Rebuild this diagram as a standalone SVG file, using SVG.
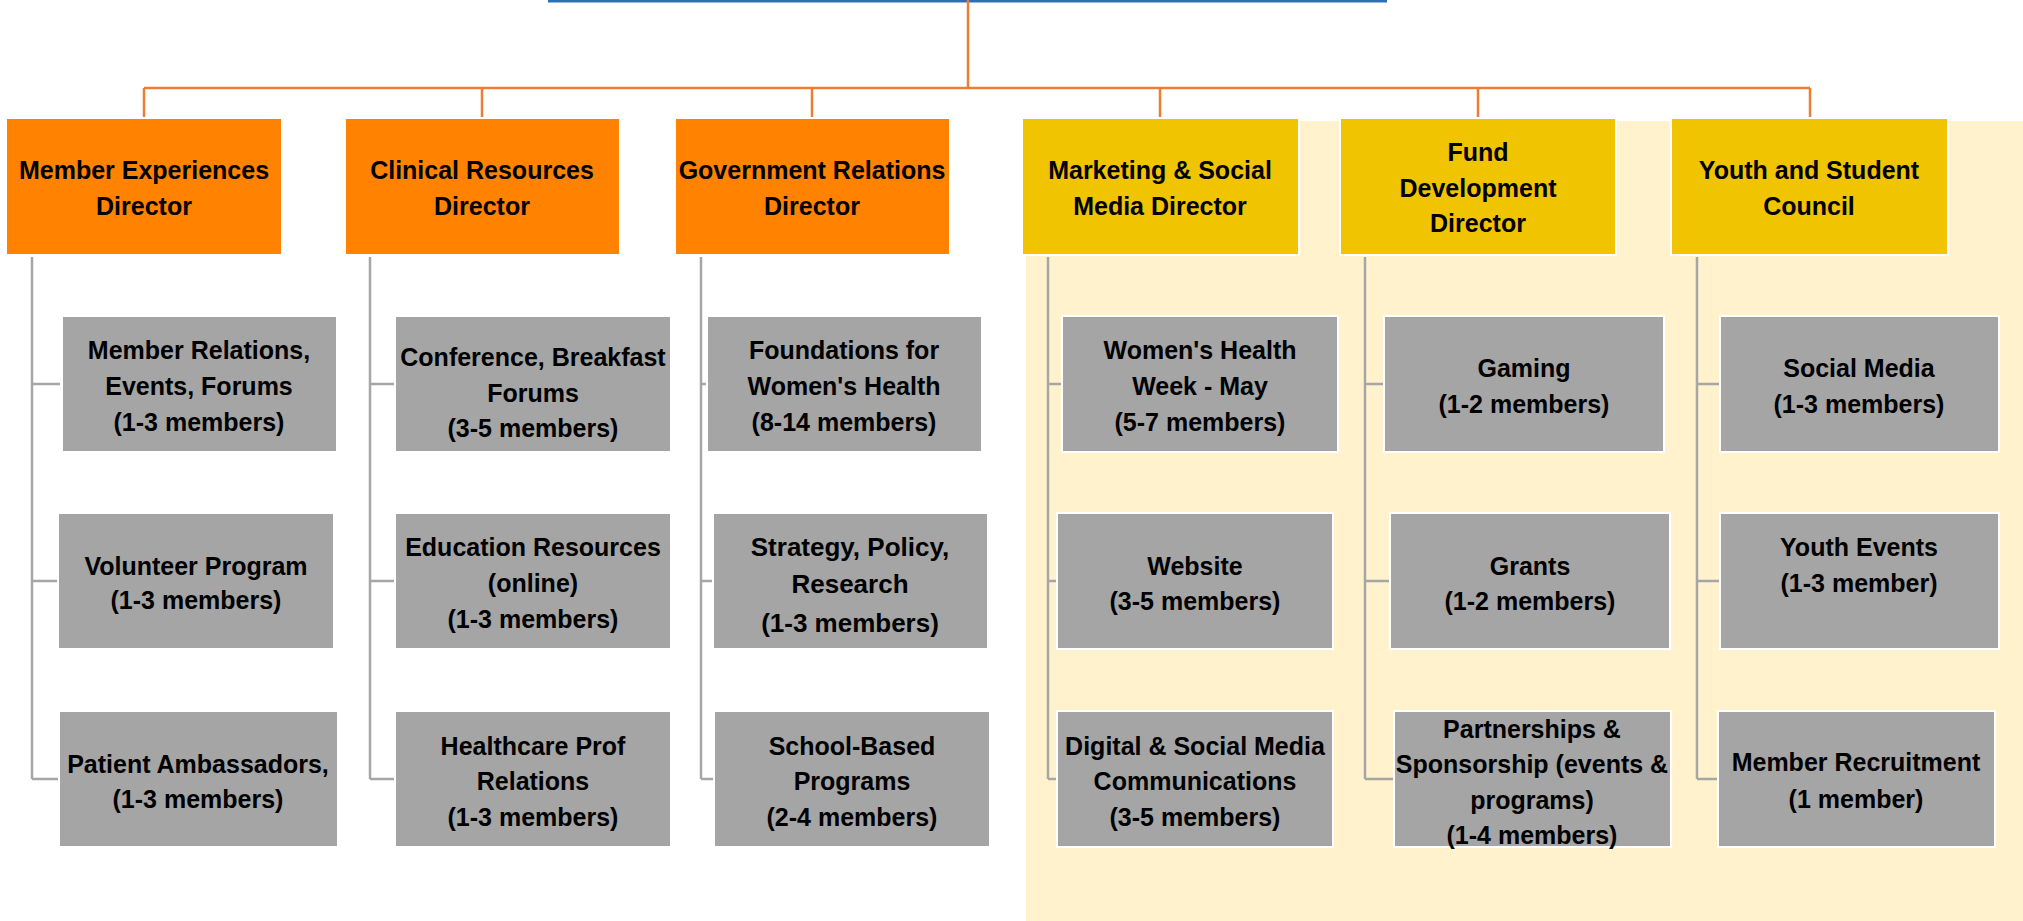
<svg xmlns="http://www.w3.org/2000/svg" width="2023" height="921" viewBox="0 0 2023 921">
<style>
.dir-o{fill:#FF8200;stroke:#FFFFFF;stroke-width:2}
.dir-y{fill:#F0C400;stroke:#FFFFFF;stroke-width:2}
.box{fill:#A5A5A5;stroke:#FFFFFF;stroke-width:2}
text{font-family:"Liberation Sans",Arial,sans-serif;font-weight:bold;font-size:25px;fill:#000000;text-anchor:middle}
.big{font-size:26px}
.oc{stroke:#ED7D31;stroke-width:2.5;fill:none}
.gc{stroke:#A6A6A6;stroke-width:2.5;fill:none}
</style>
<rect x="0" y="0" width="2023" height="921" fill="#FFFFFF"/>
<rect id="panel" x="1026" y="121" width="997" height="800" fill="#FFF2CC"/>
<rect id="top-edge" x="548" y="0" width="839" height="2.5" fill="#2F6EB5"/>
<g id="connectors">
<path class="oc" d="M968,0 V88 M144,88 H1810 M144,88 V117 M482,88 V117 M812,88 V117 M1160,88 V117 M1478,88 V117 M1810,88 V117"/>
<path class="gc" d="M32,257 V779 M32,384 H60 M32,581 H57 M32,779 H58"/>
<path class="gc" d="M370,257 V779 M370,384 H394 M370,581 H394 M370,779 H394"/>
<path class="gc" d="M701,257 V779 M701,384 H706 M701,581 H712 M701,779 H713"/>
<path class="gc" d="M1048,257 V779 M1048,384 H1061 M1048,581 H1056 M1048,779 H1056"/>
<path class="gc" d="M1365,257 V779 M1365,384 H1383 M1365,581 H1389 M1365,779 H1393"/>
<path class="gc" d="M1697,257 V779 M1697,384 H1719 M1697,581 H1719 M1697,779 H1717"/>
</g>
<g id="d1"><rect class="dir-o" x="6" y="118" width="276" height="137"/><text x="144" y="179">Member Experiences</text><text x="144" y="215">Director</text></g>
<g id="d2"><rect class="dir-o" x="345" y="118" width="275" height="137"/><text x="482" y="179">Clinical Resources</text><text x="482" y="215">Director</text></g>
<g id="d3"><rect class="dir-o" x="675" y="118" width="275" height="137"/><text x="812" y="179">Government Relations</text><text x="812" y="215">Director</text></g>
<g id="d4"><rect class="dir-y" x="1022" y="118" width="277" height="137"/><text x="1160" y="179">Marketing &amp; Social</text><text x="1160" y="215">Media Director</text></g>
<g id="d5"><rect class="dir-y" x="1340" y="118" width="276" height="137"/><text x="1478" y="161">Fund</text><text x="1478" y="197">Development</text><text x="1478" y="232">Director</text></g>
<g id="d6"><rect class="dir-y" x="1671" y="118" width="277" height="137"/><text x="1809" y="179">Youth and Student</text><text x="1809" y="215">Council</text></g>

<g id="c1r1"><rect class="box" x="62" y="316" width="275" height="136"/><text x="199" y="359">Member Relations,</text><text x="199" y="395">Events, Forums</text><text x="199" y="431">(1-3 members)</text></g>
<g id="c1r2"><rect class="box" x="58" y="513" width="276" height="136"/><text x="196" y="575">Volunteer Program</text><text x="196" y="609">(1-3 members)</text></g>
<g id="c1r3"><rect class="box" x="59" y="711" width="279" height="136"/><text x="198" y="773">Patient Ambassadors,</text><text x="198" y="808">(1-3 members)</text></g>

<g id="c2r1"><rect class="box" x="395" y="316" width="276" height="136"/><text x="533" y="366">Conference, Breakfast</text><text x="533" y="402">Forums</text><text x="533" y="437">(3-5 members)</text></g>
<g id="c2r2"><rect class="box" x="395" y="513" width="276" height="136"/><text x="533" y="556">Education Resources</text><text x="533" y="592">(online)</text><text x="533" y="628">(1-3 members)</text></g>
<g id="c2r3"><rect class="box" x="395" y="711" width="276" height="136"/><text x="533" y="755">Healthcare Prof</text><text x="533" y="790">Relations</text><text x="533" y="826">(1-3 members)</text></g>

<g id="c3r1"><rect class="box" x="707" y="316" width="275" height="136"/><text x="844" y="359">Foundations for</text><text x="844" y="395">Women's Health</text><text x="844" y="431">(8-14 members)</text></g>
<g id="c3r2"><rect class="box" x="713" y="513" width="275" height="136"/><text class="big" x="850" y="556">Strategy, Policy,</text><text class="big" x="850" y="593">Research</text><text class="big" x="850" y="632">(1-3 members)</text></g>
<g id="c3r3"><rect class="box" x="714" y="711" width="276" height="136"/><text x="852" y="755">School-Based</text><text x="852" y="790">Programs</text><text x="852" y="826">(2-4 members)</text></g>

<g id="c4r1"><rect class="box" x="1062" y="316" width="276" height="136"/><text x="1200" y="359">Women's Health</text><text x="1200" y="395">Week - May</text><text x="1200" y="431">(5-7 members)</text></g>
<g id="c4r2"><rect class="box" x="1057" y="513" width="276" height="136"/><text x="1195" y="575">Website</text><text x="1195" y="610">(3-5 members)</text></g>
<g id="c4r3"><rect class="box" x="1057" y="711" width="276" height="136"/><text x="1195" y="755">Digital &amp; Social Media</text><text x="1195" y="790">Communications</text><text x="1195" y="826">(3-5 members)</text></g>

<g id="c5r1"><rect class="box" x="1384" y="316" width="280" height="136"/><text x="1524" y="377">Gaming</text><text x="1524" y="413">(1-2 members)</text></g>
<g id="c5r2"><rect class="box" x="1390" y="513" width="280" height="136"/><text x="1530" y="575">Grants</text><text x="1530" y="610">(1-2 members)</text></g>
<g id="c5r3"><rect class="box" x="1394" y="711" width="277" height="136"/><text x="1532" y="738">Partnerships &amp;</text><text x="1532" y="773">Sponsorship (events &amp;</text><text x="1532" y="809">programs)</text><text x="1532" y="844">(1-4 members)</text></g>

<g id="c6r1"><rect class="box" x="1720" y="316" width="279" height="136"/><text x="1859" y="377">Social Media</text><text x="1859" y="413">(1-3 members)</text></g>
<g id="c6r2"><rect class="box" x="1720" y="513" width="279" height="136"/><text x="1859" y="556">Youth Events</text><text x="1859" y="592">(1-3 member)</text></g>
<g id="c6r3"><rect class="box" x="1718" y="711" width="277" height="136"/><text x="1856" y="771">Member Recruitment</text><text x="1856" y="808">(1 member)</text></g>
</svg>
